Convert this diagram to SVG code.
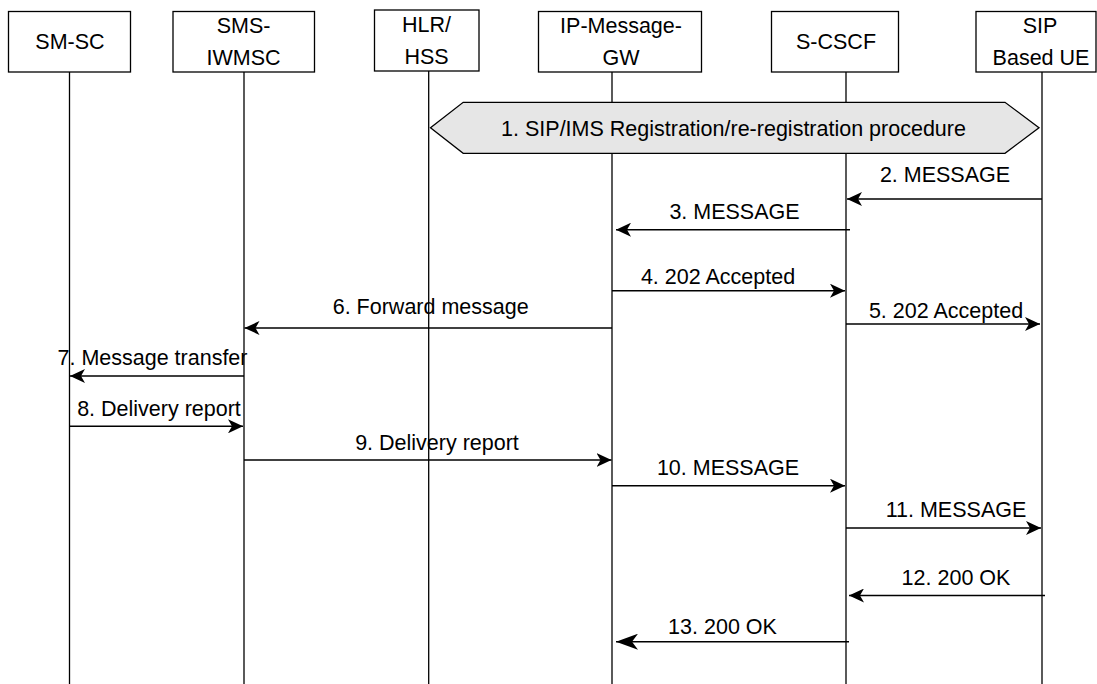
<svg xmlns="http://www.w3.org/2000/svg" width="1097" height="684" viewBox="0 0 1097 684">
  <style>
    .box { fill: #ffffff; stroke: #000000; stroke-width: 1.3; }
    .life { stroke: #000000; stroke-width: 1.3; fill: none; }
    .msg { stroke: #000000; stroke-width: 1.5; fill: none; marker-end: url(#head); }
    .msg-big { stroke: #000000; stroke-width: 1.5; fill: none; marker-end: url(#head-big); }
    .proc { fill: #e6e6e6; stroke: #000000; stroke-width: 1.3; }
    text { font-family: "Liberation Sans", Arial, sans-serif; font-size: 21.5px; fill: #000000; text-anchor: middle; }
  </style>
  <defs>
    <marker id="head" markerUnits="userSpaceOnUse" markerWidth="16" markerHeight="14" refX="15" refY="7" orient="auto">
      <path d="M0,0 L15,7 L0,14 L4,7 Z" fill="#000000"/>
    </marker>
    <marker id="head-big" markerUnits="userSpaceOnUse" markerWidth="23" markerHeight="16" refX="22" refY="8" orient="auto">
      <path d="M0,0 L22,8 L0,16 L6,8 Z" fill="#000000"/>
    </marker>
  </defs>
  <rect width="1097" height="684" fill="#ffffff"/>

  <!-- lifelines -->
  <g id="lifelines">
    <line class="life" x1="69.5" y1="72" x2="69.5" y2="684"/>
    <line class="life" x1="244" y1="72" x2="244" y2="684"/>
    <line class="life" x1="428.7" y1="71" x2="428.7" y2="684"/>
    <line class="life" x1="612" y1="72" x2="612" y2="684"/>
    <line class="life" x1="846" y1="72" x2="846" y2="684"/>
    <line class="life" x1="1042" y1="72" x2="1042" y2="684"/>
  </g>

  <!-- participants -->
  <g id="sm-sc">
    <rect class="box" x="8.5" y="11.5" width="122" height="60.5"/>
    <text x="70" y="49">SM-SC</text>
  </g>
  <g id="sms-iwmsc">
    <rect class="box" x="173" y="11.5" width="141.5" height="60.5"/>
    <text x="243.5" y="33">SMS-</text>
    <text x="243.5" y="65">IWMSC</text>
  </g>
  <g id="hlr-hss">
    <rect class="box" x="374.5" y="10" width="104.5" height="61"/>
    <text x="426.5" y="32">HLR/</text>
    <text x="426.5" y="64">HSS</text>
  </g>
  <g id="ip-message-gw">
    <rect class="box" x="538.5" y="11.5" width="163" height="60.5"/>
    <text x="621" y="33">IP-Message-</text>
    <text x="621" y="65">GW</text>
  </g>
  <g id="s-cscf">
    <rect class="box" x="771.5" y="11.5" width="127" height="60.5"/>
    <text x="836" y="49">S-CSCF</text>
  </g>
  <g id="sip-ue">
    <rect class="box" x="976" y="11.5" width="120" height="60.5"/>
    <text x="1040" y="33">SIP</text>
    <text x="1041" y="65">Based UE</text>
  </g>

  <!-- registration procedure spanning HLR/HSS to UE -->
  <g id="registration">
    <polygon class="proc" points="430.5,127.7 463.2,102.3 1005,102.3 1039,127.7 1005,153.3 463.2,153.3"/>
    <text x="733.5" y="135.5">1. SIP/IMS Registration/re-registration procedure</text>
  </g>

  <!-- messages -->
  <g id="connectors">
    <line class="msg" x1="1042" y1="199" x2="847" y2="199"/>
    <line class="msg" x1="850" y1="229.7" x2="616" y2="229.7"/>
    <line class="msg" x1="612" y1="290.7" x2="845" y2="290.7"/>
    <line class="msg" x1="846" y1="324" x2="1040" y2="324"/>
    <line class="msg" x1="612" y1="328" x2="244.5" y2="328"/>
    <line class="msg" x1="244" y1="376" x2="70" y2="376"/>
    <line class="msg" x1="69.5" y1="426.3" x2="243" y2="426.3"/>
    <line class="msg" x1="244" y1="460" x2="611.5" y2="460"/>
    <line class="msg" x1="612" y1="485.7" x2="845" y2="485.7"/>
    <line class="msg" x1="846" y1="528" x2="1041" y2="528"/>
    <line class="msg" x1="1045" y1="595.5" x2="849" y2="595.5"/>
    <line class="msg-big" x1="849" y1="641.7" x2="616" y2="641.7"/>
  </g>

  <g id="labels">
    <text x="945" y="181.7">2. MESSAGE</text>
    <text x="734.5" y="219">3. MESSAGE</text>
    <text x="718" y="284">4. 202 Accepted</text>
    <text x="946" y="318">5. 202 Accepted</text>
    <text x="430.7" y="314.3">6. Forward message</text>
    <text x="152.5" y="365">7. Message transfer</text>
    <text x="159" y="416">8. Delivery report</text>
    <text x="437" y="449.5">9. Delivery report</text>
    <text x="728" y="475">10. MESSAGE</text>
    <text x="956" y="517">11. MESSAGE</text>
    <text x="956" y="585">12. 200 OK</text>
    <text x="722.5" y="633.5">13. 200 OK</text>
  </g>
</svg>
